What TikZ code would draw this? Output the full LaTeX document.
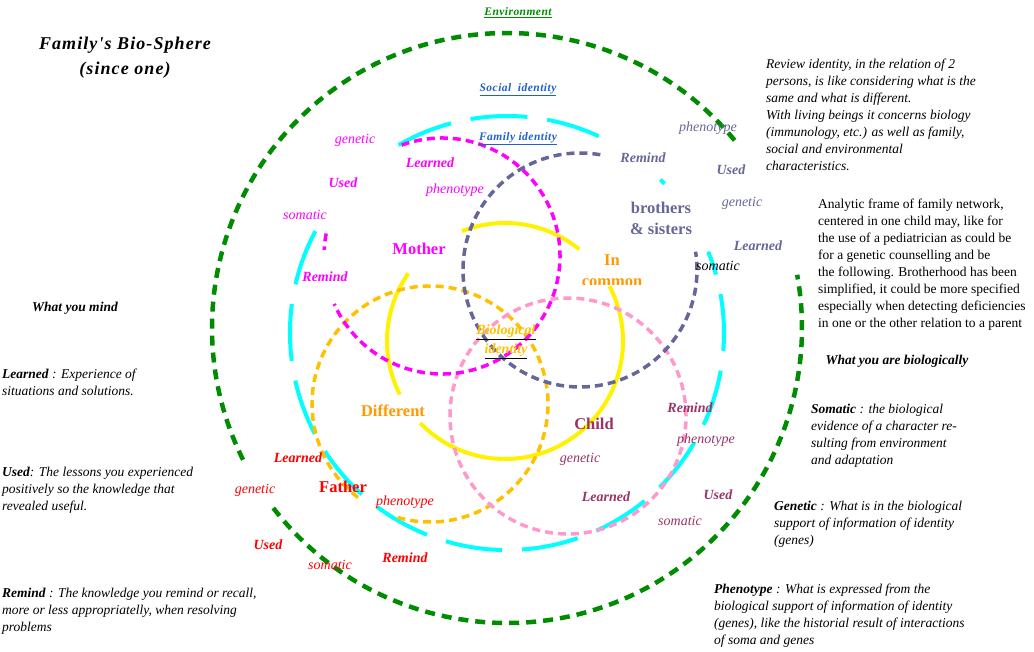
\documentclass[tikz,border=0pt]{standalone}
\usepackage{fontspec}
\setmainfont{Liberation Serif}
\newfontfamily\titlefont[LetterSpace=6]{Liberation Serif}
\newfontfamily\headfont[LetterSpace=4]{Liberation Serif}
\usepackage{xcolor}
\usepackage{tikz}

\definecolor{envgreen}{HTML}{008C00}
\definecolor{ringcyan}{HTML}{00FFFF}
\definecolor{momag}{HTML}{FF00FF}
\definecolor{sibslate}{HTML}{666699}
\definecolor{faorange}{HTML}{FFC000}
\definecolor{chpink}{HTML}{FF99CC}
\definecolor{txorange}{HTML}{FF9900}
\definecolor{chmaroon}{HTML}{993366}
\definecolor{idblue}{HTML}{1F5FD0}

\newcommand{\darkul}[2]{{\color{#1}\underline{\color{faorange}#2}}}

\begin{document}
\begin{tikzpicture}[x=1pt, y=1pt,
    lbl/.style={font=\fontsize{14}{16}\selectfont\itshape, inner sep=1pt},
    lblb/.style={font=\fontsize{14}{16}\selectfont\bfseries\itshape, inner sep=1pt},
    who/.style={font=\fontsize{16.5}{20}\selectfont\bfseries, inner sep=1pt},
    head/.style={font=\headfont\fontsize{11.5}{13}\selectfont\bfseries\itshape, inner sep=1pt},
    para/.style={font=\fontsize{13.5}{17}\selectfont, align=left, anchor=north west, inner sep=0pt},
    ring/.style={line width=3.5pt, dash pattern=on 8pt off 5pt}]
    \useasboundingbox (0,0) rectangle (1034,-652);

    \draw[envgreen, line width=4.5pt, dash pattern=on 10pt off 7pt] (507,-328) ++(39.5:295) arc (39.5:207.7:295);
    \draw[envgreen, line width=4.5pt, dash pattern=on 10pt off 7pt] (507,-328) ++(217.6:295) arc (217.6:370.4:295);

    \draw[ringcyan, line width=4pt, dash pattern=on 57pt off 20pt] (507,-333) ++(120:217) arc (120:65:217);
    \draw[ringcyan, line width=4pt] (507,-333) ++(45:217) arc (45:43.5:217);
    \draw[ringcyan, line width=4pt, dash pattern=on 57pt off 20pt] (507,-333) ++(152:217) arc (152:382:217);

    \draw[yellow, line width=4pt] (505,-341) ++(51:118) arc (51:111.5:118);
    \draw[yellow, line width=4pt] (505,-341) ++(145:118) arc (145:207:118);
    \draw[yellow, line width=4pt] (505,-341) ++(224:118) arc (224:387.7:118);

    \draw[faorange, ring] (430,-404) ++(254:118) arc (254:593:118);
    \draw[chpink, ring] (568,-416) circle (118);
    \draw[momag, ring] (442,-256) ++(110:118) arc (110:-156:118);
    \draw[momag, ring] (442,-256) ++(169:118) arc (169:177:118);
    \draw[sibslate, ring] (580,-270) ++(80:117) arc (80:369:117);

    \node[font=\titlefont\fontsize{18}{25}\selectfont\bfseries\itshape, align=center] (title) at (125,-58) {Family's Bio-Sphere\\(since one)};
    \node[head, text=envgreen] (environment) at (518,-13) {\underline{Environment}};
    \node[head, text=idblue] (social) at (518,-90) {\underline{Social\ \ identity}};
    \node[head, text=idblue] (familyid) at (518,-139) {\underline{Family identity}};

    \foreach \x/\y/\t/\s in {355/140/genetic/lbl, 430/163/Learned/lblb, 343/183/Used/lblb, 455/190/phenotype/lbl, 305/215/somatic/lbl, 325/277/Remind/lblb}
        \node[\s, text=momag] (mo-\t) at (\x,-\y) {\t};
    \foreach \x/\y/\t/\s in {708/128/phenotype/lbl, 643/158/Remind/lblb, 731/170/Used/lblb, 742/203/genetic/lbl, 758/246/Learned/lblb}
        \node[\s, text=sibslate] (si-\t) at (\x,-\y) {\t};
    \node[lbl] (si-somatic) at (718,-266) {somatic};
    \foreach \x/\y/\t/\s in {690/408/Remind/lblb, 706/440/phenotype/lbl, 580/459/genetic/lbl, 606/497/Learned/lblb, 718/495/Used/lblb, 680/521/somatic/lbl}
        \node[\s, text=chmaroon] (ch-\t) at (\x,-\y) {\t};
    \foreach \x/\y/\t/\s in {298/458/Learned/lblb, 255/490/genetic/lbl, 405/502/phenotype/lbl, 268/545/Used/lblb, 405/558/Remind/lblb, 330/565/somatic/lbl}
        \node[\s, text=red] (fa-\t) at (\x,-\y) {\t};

    \node[who, text=momag] (mother) at (419,-249) {Mother};
    \node[who, text=red] (father) at (343,-487) {Father};
    \node[who, text=chmaroon] (child) at (594,-424) {Child};
    \node[who, text=txorange] (different) at (393,-411) {Different};
    \node[who, text=sibslate, align=center, font=\fontsize{16.5}{21}\selectfont\bfseries] (siblings) at (661,-218) {brothers\\\& sisters};
    \node[who, text=txorange, anchor=base] (incommon) at (612,-266) {In};
    \begin{scope}
        \clip (570,-250) rectangle (660,-285);
        \node[who, text=txorange, anchor=base] (common) at (612,-287) {common};
    \end{scope}
    \node[font=\fontsize{14}{19}\selectfont\bfseries\itshape, align=center] (bioid) at (506,-342) {\darkul{black}{Biological}\\\darkul{black}{identity}};

    \node[font=\fontsize{13.5}{17}\selectfont\bfseries\itshape] (mindhead) at (75,-308) {What you mind};
    \node[para, font=\fontsize{13.5}{17}\selectfont\itshape] (learned) at (2,-368.5) {\textbf{Learned} : Experience of\\situations and solutions.};
    \node[para, font=\fontsize{13.5}{17}\selectfont\itshape] (used) at (2,-466.5) {\textbf{Used}: The lessons you experienced\\positively so the knowledge that\\revealed useful.};
    \node[para, font=\fontsize{13.5}{17}\selectfont\itshape] (remind) at (2,-587.5) {\textbf{Remind} : The knowledge you remind or recall,\\more or less appropriatelly, when resolving\\problems};

    \node[para, font=\fontsize{13.5}{17}\selectfont\itshape] (review) at (766,-58.5) {Review identity, in the relation of 2\\persons, is like considering what is the\\same and what is different.\\With living beings it concerns biology\\(immunology, etc.) as well as family,\\social and environmental\\characteristics.};
    \node[para] (analytic) at (818,-198.5) {Analytic frame of family network,\\centered in one child may, like for\\the use of a pediatrician as could be\\for a genetic counselling and be\\the following. Brotherhood has been\\simplified, it could be more specified\\especially when detecting deficiencies\\in one or the other relation to a parent};
    \node[font=\fontsize{13.5}{17}\selectfont\bfseries\itshape] (biohead) at (897,-361) {What you are biologically};
    \node[para, font=\fontsize{13.5}{17}\selectfont\itshape] (somatic) at (811,-403.5) {\textbf{Somatic} : the biological\\evidence of a character re-\\sulting from environment\\and adaptation};
    \node[para, font=\fontsize{13.5}{17}\selectfont\itshape] (genetic) at (774,-500.5) {\textbf{Genetic} : What is in the biological\\support of information of identity\\(genes)};
    \node[para, font=\fontsize{13.5}{17}\selectfont\itshape] (phenotype) at (714,-583.5) {\textbf{Phenotype} : What is expressed from the\\biological support of information of identity\\(genes), like the historial result of interactions\\of soma and genes};
\end{tikzpicture}
\end{document}
